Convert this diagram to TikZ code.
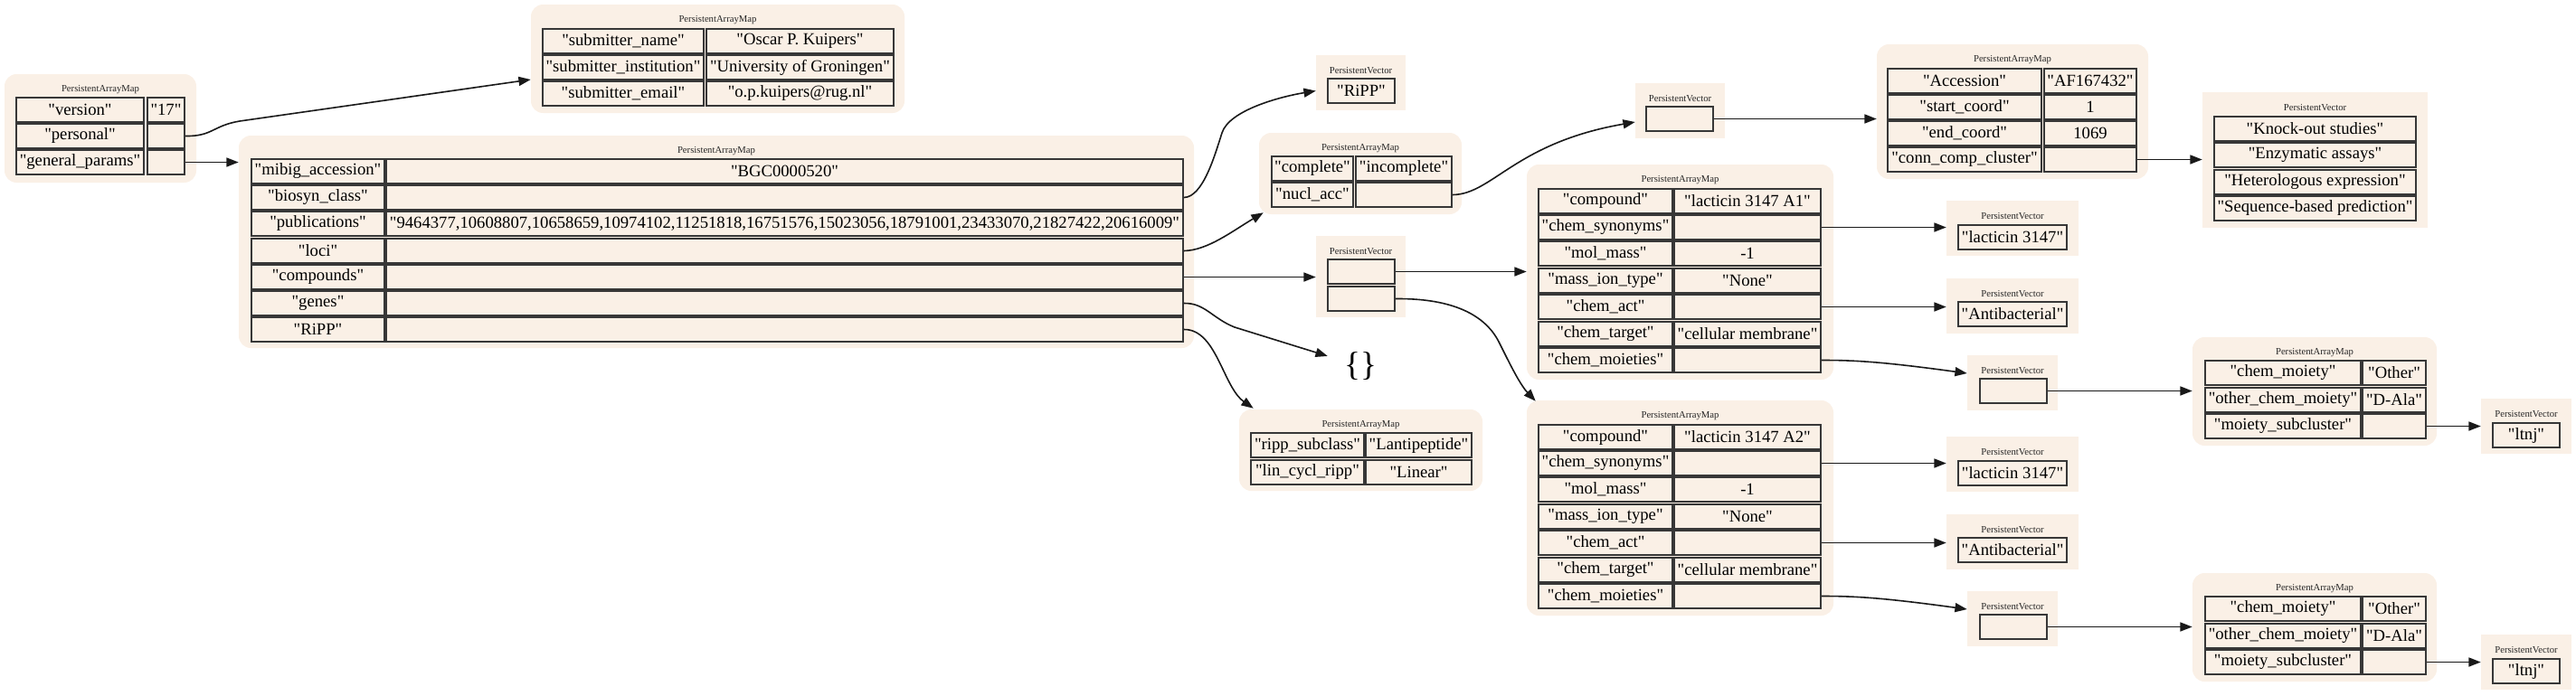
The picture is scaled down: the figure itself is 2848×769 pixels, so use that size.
\documentclass[tikz,border=0pt]{standalone}
\usepackage{fontspec}
\setmainfont{Liberation Serif}[Ligatures=TeXOff]
\usetikzlibrary{arrows.meta,fit}
\definecolor{linen}{RGB}{250,240,230}
\definecolor{cellline}{RGB}{55,55,55}
\newcommand\cfnt{\fontsize{14}{16}\selectfont}
\newcommand\tfnt{\fontsize{8}{9}\selectfont}
\tikzset{
  bgm/.style={fill=linen, draw=none, rounded corners=10pt, inner sep=0pt},
  bgv/.style={fill=linen, draw=none, inner sep=0pt},
  cellbox/.style={draw=cellline, line width=1.4pt, fill=linen, inner sep=0pt, font=\cfnt, minimum height=20.25pt},
  ttl/.style={font=\tfnt, text=black!85, inner sep=0pt},
  edge/.style={draw=black!90, line width=1.2pt, -{Triangle[length=10pt,width=7.5pt]}}
}
% key/value row: name, top, kx1, kx2, vx1, vx2, key, value
\newcommand\krow[8]{%
  \node[cellbox, minimum width=(#4-#3)*0.75pt] (#1k) at ({(#3+#4)/2},#2+13.5) {#7};
  \node[cellbox, minimum width=(#6-#5)*0.75pt] (#1v) at ({(#5+#6)/2},#2+13.5) {#8};}
% vector cell: name, top, x1, x2, text
\newcommand\vcell[5]{%
  \node[cellbox, minimum width=(#4-#3)*0.75pt] (#1) at ({(#3+#4)/2},#2+13.5) {#5};}
\newcommand\mapbg[5]{%
  \node[bgm, fit={(#2,#3) (#4,#5)}] (#1) {};
  \node[ttl] (#1t) at ({(#2+#4)/2},#3+17) {PersistentArrayMap};}
\newcommand\vecbg[5]{%
  \node[bgv, fit={(#2,#3) (#4,#5)}] (#1) {};
  \node[ttl] (#1t) at ({(#2+#4)/2},#3+17) {PersistentVector};}
\begin{document}
\begin{tikzpicture}[x=0.75pt, y=-0.75pt]
\useasboundingbox (0,0) rectangle (2848,769);

% A: root map
\mapbg{A}{5}{82}{217}{202}
\krow{A1}{108}{18}{159}{163}{204}{"version"}{"17"}
\krow{A2}{137}{18}{159}{163}{204}{"personal"}{}
\krow{A3}{166}{18}{159}{163}{204}{"general\_params"}{}

% B: personal
\mapbg{B}{587}{5}{1000}{125}
\krow{B1}{32}{600}{778}{781}{988}{"submitter\_name"}{"Oscar P. Kuipers"}
\krow{B2}{61}{600}{778}{781}{988}{"submitter\_institution"}{"University of Groningen"}
\krow{B3}{90}{600}{778}{781}{988}{"submitter\_email"}{"o.p.kuipers@rug.nl"}

% C: general params
\mapbg{C}{264}{150}{1320}{385}
\krow{C1}{176}{278}{425}{427}{1308}{"mibig\_accession"}{"BGC0000520"}
\krow{C2}{205}{278}{425}{427}{1308}{"biosyn\_class"}{}
\krow{C3}{234}{278}{425}{427}{1308}{"publications"}{"9464377,10608807,10658659,10974102,11251818,16751576,15023056,18791001,23433070,21827422,20616009"}
\krow{C4}{264}{278}{425}{427}{1308}{"loci"}{}
\krow{C5}{293}{278}{425}{427}{1308}{"compounds"}{}
\krow{C6}{322}{278}{425}{427}{1308}{"genes"}{}
\krow{C7}{351}{278}{425}{427}{1308}{"RiPP"}{}

% D: biosyn class
\vecbg{D}{1455}{61}{1554}{122}
\vcell{D1}{87}{1468}{1542}{"RiPP"}

% E: loci
\mapbg{E}{1392}{147}{1616}{237}
\krow{E1}{173}{1406}{1496}{1499}{1605}{"complete"}{"incomplete"}
\krow{E2}{202}{1406}{1496}{1499}{1605}{"nucl\_acc"}{}

% F: compounds
\vecbg{F}{1455}{261}{1554}{351}
\vcell{F1}{287}{1468}{1542}{}
\vcell{F2}{317}{1468}{1542}{}

% G: nucl_acc
\vecbg{G}{1808}{92}{1907}{153}
\vcell{G1}{118}{1820}{1894}{}

% H: compound A1
\mapbg{H}{1688}{182}{2027}{420}
\krow{H1}{209}{1701}{1849}{1851}{2013}{"compound"}{"lacticin 3147 A1"}
\krow{H2}{238}{1701}{1849}{1851}{2013}{"chem\_synonyms"}{}
\krow{H3}{267}{1701}{1849}{1851}{2013}{"mol\_mass"}{-1}
\krow{H4}{297}{1701}{1849}{1851}{2013}{"mass\_ion\_type"}{"None"}
\krow{H5}{326}{1701}{1849}{1851}{2013}{"chem\_act"}{}
\krow{H6}{356}{1701}{1849}{1851}{2013}{"chem\_target"}{"cellular membrane"}
\krow{H7}{385}{1701}{1849}{1851}{2013}{"chem\_moieties"}{}

% I: compound A2
\mapbg{I}{1688}{443}{2027}{681}
\krow{I1}{470}{1701}{1849}{1851}{2013}{"compound"}{"lacticin 3147 A2"}
\krow{I2}{499}{1701}{1849}{1851}{2013}{"chem\_synonyms"}{}
\krow{I3}{528}{1701}{1849}{1851}{2013}{"mol\_mass"}{-1}
\krow{I4}{558}{1701}{1849}{1851}{2013}{"mass\_ion\_type"}{"None"}
\krow{I5}{587}{1701}{1849}{1851}{2013}{"chem\_act"}{}
\krow{I6}{617}{1701}{1849}{1851}{2013}{"chem\_target"}{"cellular membrane"}
\krow{I7}{646}{1701}{1849}{1851}{2013}{"chem\_moieties"}{}

% J: genes (empty map)
\node[font=\fontsize{28}{30}\selectfont, inner sep=13.5pt] (J) at (1504,405) {\{\}};

% K: RiPP
\mapbg{K}{1370}{453}{1639}{543}
\krow{K1}{479}{1383}{1508}{1510}{1627}{"ripp\_subclass"}{"Lantipeptide"}
\krow{K2}{509}{1383}{1508}{1510}{1627}{"lin\_cycl\_ripp"}{"Linear"}

% L: nucl_acc entry
\mapbg{L}{2075}{49}{2375}{198}
\krow{L1}{76}{2087}{2257}{2260}{2362}{"Accession"}{"AF167432"}
\krow{L2}{105}{2087}{2257}{2260}{2362}{"start\_coord"}{1}
\krow{L3}{134}{2087}{2257}{2260}{2362}{"end\_coord"}{1069}
\krow{L4}{163}{2087}{2257}{2260}{2362}{"conn\_comp\_cluster"}{}

% M: evidence
\vecbg{M}{2435}{102}{2684}{252}
\vcell{M1}{129}{2448}{2671}{"Knock-out studies"}
\vcell{M2}{158}{2448}{2671}{"Enzymatic assays"}
\vcell{M3}{188}{2448}{2671}{"Heterologous expression"}
\vcell{M4}{217}{2448}{2671}{"Sequence-based prediction"}

% A1 side vectors
\vecbg{N}{2152}{222}{2298}{283}
\vcell{N1}{249}{2165}{2285}{"lacticin 3147"}
\vecbg{O}{2152}{308}{2298}{369}
\vcell{O1}{334}{2165}{2285}{"Antibacterial"}
\vecbg{P}{2175}{393}{2275}{454}
\vcell{P1}{419}{2189}{2263}{}
\mapbg{Q}{2424}{373}{2694}{493}
\krow{Q1}{399}{2438}{2610}{2612}{2682}{"chem\_moiety"}{"Other"}
\krow{Q2}{429}{2438}{2610}{2612}{2682}{"other\_chem\_moiety"}{"D-Ala"}
\krow{Q3}{458}{2438}{2610}{2612}{2682}{"moiety\_subcluster"}{}
\vecbg{R}{2743}{441}{2843}{502}
\vcell{R1}{468}{2756}{2830}{"ltnj"}

% A2 side vectors
\vecbg{NN}{2152}{483}{2298}{544}
\vcell{NN1}{510}{2165}{2285}{"lacticin 3147"}
\vecbg{OO}{2152}{569}{2298}{630}
\vcell{OO1}{595}{2165}{2285}{"Antibacterial"}
\vecbg{PP}{2175}{654}{2275}{715}
\vcell{PP1}{680}{2189}{2263}{}
\mapbg{QQ}{2424}{634}{2694}{754}
\krow{QQ1}{660}{2438}{2610}{2612}{2682}{"chem\_moiety"}{"Other"}
\krow{QQ2}{690}{2438}{2610}{2612}{2682}{"other\_chem\_moiety"}{"D-Ala"}
\krow{QQ3}{719}{2438}{2610}{2612}{2682}{"moiety\_subcluster"}{}
\vecbg{RR}{2743}{702}{2843}{763}
\vcell{RR1}{729}{2756}{2830}{"ltnj"}

% ---- edges ----
\draw[edge] (A2v.east) .. controls (235,151) and (235,139) .. (265,134) -- ([shift={(0,23)}]B.west);
\draw[edge] (A3v.east) -- (A3v.east -| C.west);
\draw[edge] (C2v.east) .. controls (1330,218) and (1343,172) .. (1351,147)
  .. controls (1359,122) and (1415,107) .. ([shift={(0,9)}]D.west);
\draw[edge] (C4v.east) .. controls (1335,277) and (1362,256) .. ([shift={(5,-2)}]E.south west);
\draw[edge] (C5v.east) -- (C5v.east -| F.west);
\draw[edge] (C6v.east) .. controls (1332,335) and (1340,352) .. (1365,362) -- (J.163);
\draw[edge] (C7v.east) .. controls (1345,364) and (1352,428) .. ([shift={(16,-1)}]K.north west);
\draw[edge] (E2v.east) .. controls (1650,215) and (1675,158) .. ([shift={(0,12.5)}]G.west);
\draw[edge] (G1.east) -- (G1.east -| L.west);
\draw[edge] (F1.east) -- (F1.east -| H.west);
\draw[edge] (F2.east) .. controls (1600,330) and (1640,345) .. (1657,378)
  .. controls (1668,400) and (1680,425) .. ([shift={(10,1)}]I.north west);
\draw[edge] (L4v.east) -- (L4v.east -| M.west);
% A1 compound
\draw[edge] (H2v.east) -- (H2v.east -| N.west);
\draw[edge] (H5v.east) -- (H5v.east -| O.west);
\draw[edge] (H7v.east) .. controls (2050,398.5) and (2080,400) .. ([shift={(0,-10.5)}]P.west);
\draw[edge] (P1.east) -- (P1.east -| Q.west);
\draw[edge] (Q3v.east) -- (Q3v.east -| R.west);
% A2 compound
\draw[edge] (I2v.east) -- (I2v.east -| NN.west);
\draw[edge] (I5v.east) -- (I5v.east -| OO.west);
\draw[edge] (I7v.east) .. controls (2050,659.5) and (2080,661) .. ([shift={(0,-10.5)}]PP.west);
\draw[edge] (PP1.east) -- (PP1.east -| QQ.west);
\draw[edge] (QQ3v.east) -- (QQ3v.east -| RR.west);
\end{tikzpicture}
\end{document}
